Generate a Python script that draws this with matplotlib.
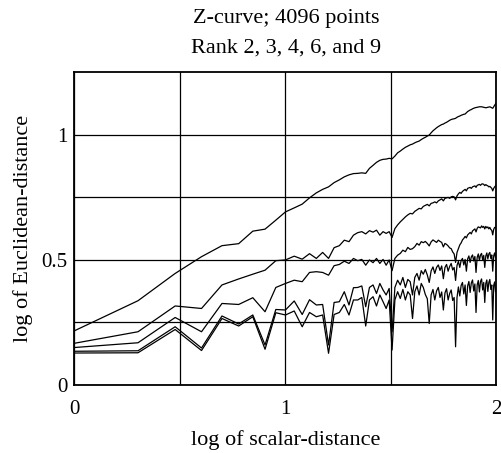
import numpy as np
import matplotlib
matplotlib.use("Agg")
import matplotlib.pyplot as plt

# scalar distance d = 1..100, plotted as log10(d)
scalar_dist = np.arange(1, 101)

# log10 of mean Euclidean distance (one value per d)
rank2 = [0.217, 0.337, 0.446, 0.513, 0.557, 0.565, 0.615, 0.623, 0.659, 0.692,
         0.708, 0.723, 0.748, 0.768, 0.782, 0.792, 0.809, 0.820, 0.832, 0.840,
         0.845, 0.846, 0.848, 0.846, 0.866, 0.878, 0.890, 0.898, 0.902, 0.903,
         0.906, 0.904, 0.915, 0.928, 0.935, 0.943, 0.950, 0.955, 0.960, 0.963,
         0.968, 0.972, 0.975, 0.981, 0.986, 0.990, 0.995, 0.999, 1.008, 1.016,
         1.022, 1.028, 1.033, 1.037, 1.041, 1.043, 1.047, 1.050, 1.054, 1.058,
         1.061, 1.063, 1.064, 1.066, 1.070, 1.073, 1.075, 1.078, 1.080, 1.082,
         1.083, 1.088, 1.093, 1.096, 1.099, 1.101, 1.104, 1.106, 1.108, 1.109,
         1.110, 1.111, 1.112, 1.112, 1.112, 1.111, 1.110, 1.109, 1.108, 1.109,
         1.110, 1.111, 1.112, 1.110, 1.108, 1.106, 1.112, 1.118, 1.124, 1.130]

rank3 = [0.167, 0.213, 0.316, 0.306, 0.400, 0.424, 0.443, 0.459, 0.497, 0.500,
         0.515, 0.503, 0.525, 0.506, 0.530, 0.506, 0.549, 0.557, 0.579, 0.573,
         0.599, 0.609, 0.613, 0.604, 0.617, 0.611, 0.619, 0.599, 0.613, 0.606,
         0.613, 0.590, 0.625, 0.640, 0.652, 0.662, 0.672, 0.680, 0.686, 0.684,
         0.694, 0.700, 0.706, 0.704, 0.714, 0.718, 0.722, 0.716, 0.726, 0.728,
         0.732, 0.728, 0.736, 0.740, 0.744, 0.736, 0.746, 0.748, 0.750, 0.746,
         0.752, 0.754, 0.752, 0.740, 0.756, 0.764, 0.770, 0.766, 0.774, 0.778,
         0.782, 0.776, 0.786, 0.788, 0.790, 0.786, 0.792, 0.794, 0.796, 0.790,
         0.798, 0.800, 0.802, 0.798, 0.803, 0.804, 0.802, 0.797, 0.801, 0.798,
         0.796, 0.792, 0.794, 0.790, 0.786, 0.776, 0.786, 0.792, 0.796, 0.802]

rank4 = [0.150, 0.169, 0.270, 0.213, 0.326, 0.322, 0.349, 0.293, 0.390, 0.406,
         0.419, 0.413, 0.450, 0.453, 0.450, 0.439, 0.477, 0.482, 0.495, 0.486,
         0.506, 0.497, 0.502, 0.479, 0.500, 0.489, 0.506, 0.486, 0.502, 0.479,
         0.500, 0.457, 0.506, 0.519, 0.526, 0.539, 0.533, 0.550, 0.542, 0.545,
         0.553, 0.566, 0.559, 0.573, 0.569, 0.574, 0.566, 0.556, 0.572, 0.580,
         0.575, 0.570, 0.579, 0.574, 0.570, 0.552, 0.566, 0.562, 0.556, 0.548,
         0.545, 0.532, 0.524, 0.490, 0.530, 0.545, 0.560, 0.568, 0.580, 0.586,
         0.594, 0.588, 0.600, 0.605, 0.610, 0.604, 0.616, 0.620, 0.624, 0.612,
         0.626, 0.632, 0.630, 0.628, 0.636, 0.630, 0.634, 0.624, 0.634, 0.628,
         0.632, 0.624, 0.630, 0.622, 0.618, 0.600, 0.622, 0.630, 0.628, 0.640]

rank6 = [0.135, 0.137, 0.233, 0.148, 0.276, 0.244, 0.280, 0.160, 0.302, 0.300,
         0.336, 0.282, 0.341, 0.320, 0.322, 0.160, 0.330, 0.333, 0.373, 0.320,
         0.389, 0.390, 0.396, 0.313, 0.390, 0.400, 0.366, 0.406, 0.380, 0.360,
         0.386, 0.213, 0.390, 0.419, 0.400, 0.430, 0.390, 0.422, 0.413, 0.360,
         0.430, 0.446, 0.419, 0.457, 0.443, 0.462, 0.440, 0.410, 0.456, 0.472,
         0.446, 0.470, 0.480, 0.458, 0.476, 0.425, 0.470, 0.482, 0.455, 0.474,
         0.486, 0.460, 0.470, 0.418, 0.478, 0.494, 0.470, 0.498, 0.506, 0.480,
         0.502, 0.455, 0.504, 0.516, 0.490, 0.512, 0.520, 0.496, 0.514, 0.450,
         0.510, 0.524, 0.498, 0.520, 0.526, 0.500, 0.518, 0.470, 0.516, 0.528,
         0.504, 0.524, 0.530, 0.506, 0.520, 0.455, 0.516, 0.528, 0.508, 0.526]

rank9 = [0.128, 0.129, 0.222, 0.138, 0.266, 0.236, 0.273, 0.143, 0.289, 0.280,
         0.296, 0.233, 0.290, 0.273, 0.280, 0.127, 0.282, 0.290, 0.322, 0.280,
         0.340, 0.340, 0.350, 0.236, 0.340, 0.353, 0.316, 0.360, 0.333, 0.306,
         0.340, 0.140, 0.340, 0.373, 0.346, 0.382, 0.340, 0.373, 0.360, 0.266,
         0.373, 0.396, 0.360, 0.406, 0.390, 0.362, 0.345, 0.246, 0.360, 0.382,
         0.340, 0.376, 0.390, 0.350, 0.372, 0.300, 0.368, 0.385, 0.340, 0.366,
         0.380, 0.338, 0.350, 0.153, 0.350, 0.392, 0.356, 0.398, 0.410, 0.364,
         0.400, 0.318, 0.396, 0.414, 0.370, 0.408, 0.420, 0.376, 0.404, 0.290,
         0.400, 0.418, 0.372, 0.414, 0.424, 0.380, 0.410, 0.330, 0.406, 0.420,
         0.374, 0.410, 0.422, 0.382, 0.400, 0.260, 0.398, 0.412, 0.372, 0.392]

series = [rank2, rank3, rank4, rank6, rank9]

plt.rcParams['font.family'] = ['Liberation Serif', 'DejaVu Serif']

fig = plt.figure(figsize=(5.02, 4.53), dpi=100)
ax = fig.add_axes([0.1484, 0.150, 0.8406, 0.6905])

x = np.log10(scalar_dist)
for ys in series:
    ax.plot(x, ys, color='black', lw=0.9)

ax.set_xlim(0, 2)
ax.set_ylim(0, 1.25)
ax.set_xticks([0, 0.5, 1, 1.5, 2])
ax.set_xticklabels(['0', '', '1', '', '2'])
ax.set_yticks([0, 0.25, 0.5, 0.75, 1.0])
ax.set_yticklabels(['0', '', '0.5', '', '1'])
ax.tick_params(length=0, labelsize=15)
ax.tick_params(axis='x', pad=11)
ax.tick_params(axis='y', pad=5)
ax.grid(True, color='black', lw=0.9)
for s in ax.spines.values():
    s.set_linewidth(1.3)

ax.set_xlabel('log of scalar-distance', fontsize=16, labelpad=8)
ax.set_ylabel('log of Euclidean-distance', fontsize=16, labelpad=6)
fig.text(0.5695, 0.96, 'Z-curve; 4096 points', ha='center', va='center', fontsize=16)
fig.text(0.5695, 0.894, 'Rank 2, 3, 4, 6, and 9', ha='center', va='center', fontsize=16)

fig.savefig('out.png', dpi=100)
